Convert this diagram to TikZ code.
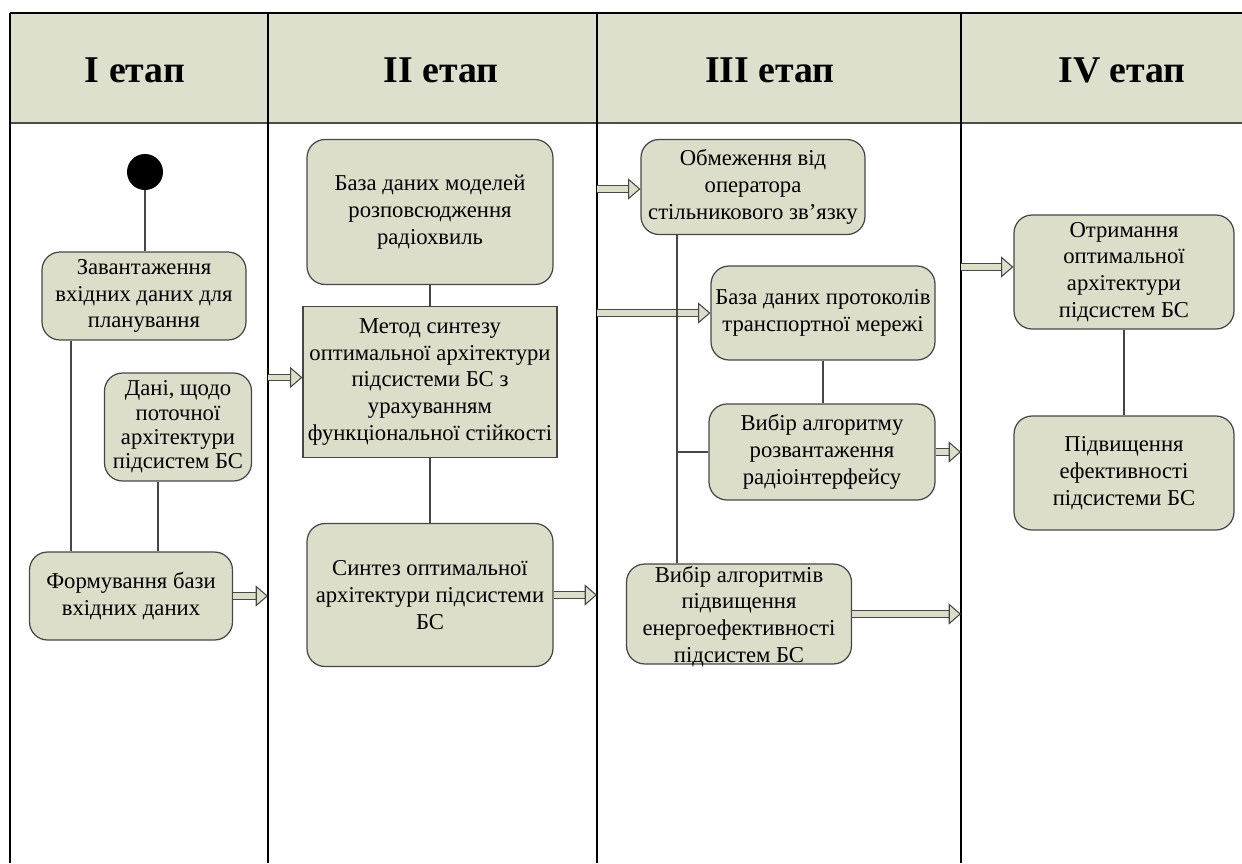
\documentclass[tikz,border=0pt]{standalone}
\usepackage{fontspec}
\setmainfont{Liberation Serif}
\usetikzlibrary{arrows.meta}
\definecolor{headfill}{RGB}{221,224,204}
\definecolor{boxfill}{RGB}{220,222,202}
\definecolor{linegray}{RGB}{70,70,70}

\tikzset{
  stage/.style={font=\fontsize{21.5}{24}\selectfont\bfseries},
  act/.style={draw=linegray, fill=boxfill, rounded corners=0.36cm, align=center,
    inner sep=1pt, line width=0.7pt, font=\fontsize{12.9}{15.2}\selectfont},
  method/.style={act, rounded corners=0pt},
  flow/.style={draw=linegray, line width=0.6pt},
  darr/.style={draw=linegray, line width=0.6pt, double=boxfill, double distance=3pt,
    -{Triangle[length=7pt,width=12pt,fill=boxfill]}}
}

\begin{document}
\begin{tikzpicture}[x=0.02cm, y=-0.02cm]
  \useasboundingbox (0,0) rectangle (1242,863);

  % Header band
  \fill[headfill] (10,13) rectangle (1242,123);
  \draw[line width=0.6pt] (10,13) -- (1242,13);
  \draw[line width=1pt, black!70] (10,123) -- (1242,123);

  % Lanes
  \coordinate (l0) at (10,0);
  \coordinate (l1) at (268,0);
  \coordinate (l2) at (597,0);
  \coordinate (l3) at (961,0);
  \foreach \l in {l0,l1,l2,l3}
    \draw[line width=0.6pt] (\l |- 0,13) -- (\l |- 0,863);

  \node[stage] (s1) at (135,70) {I етап};
  \node[stage] (s2) at (441,70) {II етап};
  \node[stage] (s3) at (770,70) {III етап};
  \node[stage] (s4) at (1122,70) {IV етап};

  % I stage
  \node[circle, fill=black, minimum size=0.72cm, inner sep=0pt] (start) at (145,172) {};
  \node[act, minimum width=4.08cm, minimum height=1.76cm] (load) at (144,296)
    {Завантаження\\вхідних даних для\\планування};
  \node[act, minimum width=2.94cm, minimum height=2.16cm,
    font=\fontsize{12.9}{13.9}\selectfont] (cur) at (178,427)
    {Дані, щодо\\поточної\\архітектури\\підсистем БС};
  \node[act, minimum width=4.06cm, minimum height=1.76cm] (base) at (131,596)
    {Формування бази\\вхідних даних};

  \draw[flow] (start) -- (start |- load.north);
  \draw[flow] ([xshift=-1.46cm]load.south) -- ([xshift=-1.46cm]load.south |- base.north);
  \draw[flow] ([xshift=-0.40cm]cur.south) -- ([xshift=-0.40cm]cur.south |- base.north);
  \draw[darr] (base.east) -- (base.east -| l1);

  % II stage
  \node[act, minimum width=4.92cm, minimum height=2.9cm] (model) at (430,212)
    {База даних моделей\\розповсюдження\\радіохвиль};
  \node[method, minimum width=5.08cm, minimum height=3.02cm] (synm) at (430,382)
    {Метод синтезу\\оптимальної архітектури\\підсистеми БС з\\урахуванням\\функціональної стійкості};
  \node[act, minimum width=4.92cm, minimum height=2.86cm] (syn) at (430,595)
    {Синтез оптимальної\\архітектури підсистеми\\БС};

  \draw[darr] ([yshift=0.09cm]synm.west -| l1) -- ([yshift=0.09cm]synm.west);
  \draw[flow] (model) -- (synm);
  \draw[flow] (synm) -- (syn);
  \draw[darr] (syn.east) -- (syn.east -| l2);

  % III stage
  \node[act, minimum width=4.48cm, minimum height=1.9cm] (lim) at (753,187)
    {Обмеження від\\оператора\\стільникового зв’язку};
  \node[act, minimum width=4.48cm, minimum height=1.88cm] (proto) at (823,313)
    {База даних протоколів\\транспортної мережі};
  \node[act, minimum width=4.52cm, minimum height=1.92cm] (radio) at (822,452)
    {Вибір алгоритму\\розвантаження\\радіоінтерфейсу};
  \node[act, minimum width=4.5cm, minimum height=1.92cm, text depth=0pt] (energy) at (739,614)
    {Вибір алгоритмів\\підвищення\\енергоефективності\\підсистем БС};

  \draw[darr] ([yshift=-0.04cm]lim.west -| l2) -- ([yshift=-0.04cm]lim.west);
  \draw[darr] (proto.west -| l2) -- (proto.west);
  \coordinate (bus) at ([xshift=-1.52cm]lim.south);
  \draw[flow] (bus) -- (bus |- energy.north);
  \draw[flow] (bus |- radio.west) -- (radio.west);
  \draw[flow] (proto) -- (proto |- radio.north);
  \draw[darr] (radio.east) -- (radio.east -| l3);
  \draw[darr] (energy.east) -- (energy.east -| l3);

  % IV stage
  \node[act, minimum width=4.4cm, minimum height=2.28cm] (opt) at (1124,272)
    {Отримання\\оптимальної\\архітектури\\підсистем БС};
  \node[act, minimum width=4.4cm, minimum height=2.28cm] (eff) at (1124,473)
    {Підвищення\\ефективності\\підсистеми БС};

  \draw[darr] ([yshift=0.1cm]opt.west -| l3) -- ([yshift=0.1cm]opt.west);
  \draw[flow] (opt) -- (eff);
\end{tikzpicture}
\end{document}
